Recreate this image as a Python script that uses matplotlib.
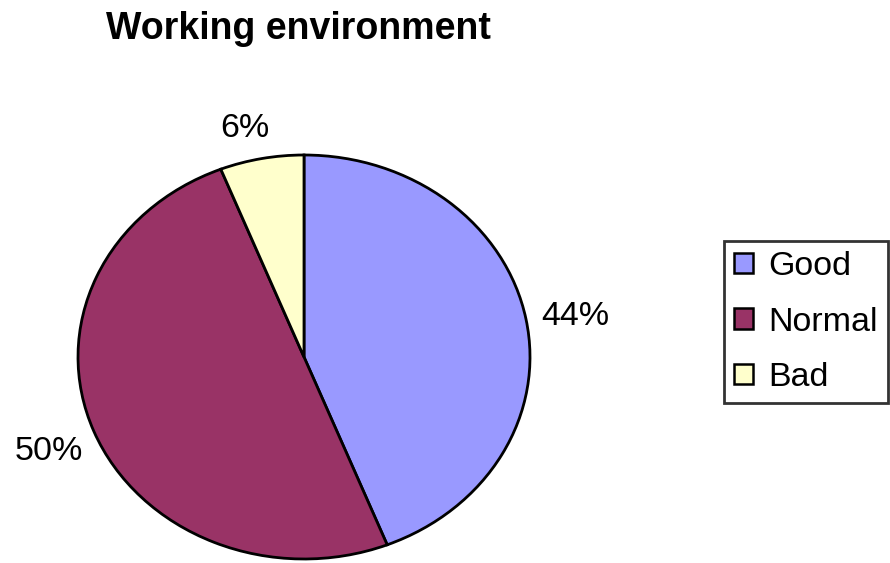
import matplotlib.pyplot as plt

plt.rcParams["font.family"] = ["Liberation Sans", "DejaVu Sans"]

categories = ["Good", "Normal", "Bad"]
shares = [44, 50, 6]
colors = ["#9999FF", "#993366", "#FFFFCC"]

fig = plt.figure(figsize=(8.9, 5.63), dpi=100)
ax = fig.add_axes([78 / 890, 4 / 563, 452 / 890, 404 / 563])

wedges, texts, autotexts = ax.pie(
    shares,
    colors=colors,
    startangle=90,
    counterclock=False,
    autopct="%d%%",
    pctdistance=1.22,
    wedgeprops=dict(edgecolor="black", linewidth=2.0),
    textprops=dict(fontsize=24.5),
)
ax.set_aspect("auto")
ax.set_xlim(-1.0, 1.0)
ax.set_ylim(-1.0, 1.0)

# place the percentages like the usual spreadsheet labels
autotexts[0].set_position((1.20, 0.20))
autotexts[1].set_position((-1.13, -0.47))
autotexts[2].set_position((-0.26, 1.13))

fig.text(298 / 890, 1 - 29 / 563, "Working environment", ha="center", va="center",
         fontsize=27, fontweight="bold")

leg = fig.legend(wedges, categories, loc="upper left",
                 bbox_to_anchor=(724 / 890, 1 - 241 / 563),
                 fontsize=24.5, frameon=True, fancybox=False,
                 handlelength=0.55, handleheight=0.55, handletextpad=0.45,
                 labelspacing=0.72, borderpad=0.3, borderaxespad=0)
leg.get_frame().set_edgecolor("black")
leg.get_frame().set_linewidth(2.0)
for h in leg.legend_handles:
    h.set_linewidth(1.8)

fig.savefig("out.png", dpi=100)
